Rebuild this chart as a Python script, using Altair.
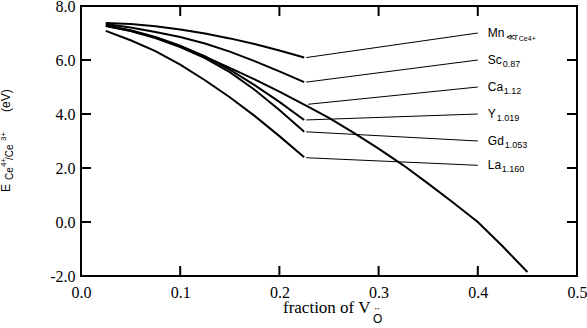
import altair as alt
import pandas as pd

# ---- data ----
x_short = [0.025, 0.05, 0.075, 0.1, 0.125, 0.15, 0.175, 0.2, 0.225]
mn_vals = [7.37, 7.33, 7.25, 7.13, 6.98, 6.80, 6.59, 6.35, 6.09]
sc_vals = [7.33, 7.20, 7.04, 6.85, 6.61, 6.31, 5.96, 5.58, 5.18]
y_vals = [7.29, 7.10, 6.85, 6.53, 6.13, 5.64, 5.07, 4.45, 3.78]
gd_vals = [7.26, 7.07, 6.81, 6.48, 6.07, 5.55, 4.90, 4.15, 3.34]
la_vals = [7.08, 6.73, 6.33, 5.83, 5.25, 4.62, 3.93, 3.18, 2.40]
x_long = [0.025, 0.05, 0.075, 0.1, 0.125, 0.15, 0.175, 0.2, 0.225,
          0.25, 0.275, 0.3, 0.325, 0.35, 0.375, 0.4, 0.425, 0.45]
ca_vals = [7.27, 7.08, 6.83, 6.50, 6.12, 5.71, 5.28, 4.83, 4.35,
           3.86, 3.30, 2.72, 2.10, 1.42, 0.72, 0.00, -0.90, -1.85]

label_main = ["Mn", "Sc", "Ca", "Y", "Gd", "La"]
label_sub = ["\u226ar", "0.87", "1.12", "1.019", "1.053", "1.160"]
leader_x0 = [0.227, 0.227, 0.229, 0.227, 0.227, 0.227]
leader_y0 = [6.09, 5.18, 4.36, 3.78, 3.34, 2.38]
leader_x1 = [0.4, 0.4, 0.4, 0.4, 0.4, 0.4]
leader_y1 = [7.0, 6.0, 5.0, 4.0, 3.0, 2.1]

x_ticks = [0.0, 0.1, 0.2, 0.3, 0.4, 0.5]
y_ticks = [-2.0, 0.0, 2.0, 4.0, 6.0, 8.0]
x_inner = [0.1, 0.2, 0.3, 0.4]
y_inner = [0.0, 2.0, 4.0, 6.0]

# ---- layout / style ----
W, H = 496, 270
SANS = "Liberation Sans"
SERIF = "Liberation Serif"
sub_dx = [28, 25, 26, 19, 27, 24]

rows = []
for name, xs, ys in [("Mn", x_short, mn_vals), ("Sc", x_short, sc_vals),
                     ("Ca", x_long, ca_vals), ("Y", x_short, y_vals),
                     ("Gd", x_short, gd_vals), ("La", x_short, la_vals)]:
    for xv, yv in zip(xs, ys):
        rows.append({"s": name, "x": xv, "y": yv})
curves = pd.DataFrame(rows)

leaders = pd.DataFrame({"s": label_main, "x0": leader_x0, "y0": leader_y0,
                        "x1": leader_x1, "y1": leader_y1, "sub": label_sub})

xs = alt.Scale(domain=[0, 0.5], nice=False, zero=False)
ys = alt.Scale(domain=[-2, 8], nice=False, zero=False)

x_axis = alt.Axis(values=x_ticks, labelExpr="format(datum.value, '.1f')",
                  labelFont=SERIF, labelFontSize=16, labelColor="black",
                  ticks=False, domain=False, grid=False, title=None,
                  labelPadding=8, labelFlush=False, labelOverlap=False)
y_axis = alt.Axis(values=y_ticks,
                  labelExpr="(datum.value < 0 ? '-' : '') + format(abs(datum.value), '.1f')",
                  labelFont=SERIF, labelFontSize=16, labelColor="black",
                  ticks=False, domain=False, grid=False, title=None,
                  labelPadding=6, labelFlush=False, labelOverlap=False)

lines = alt.Chart(curves).mark_line(color="black", strokeWidth=2).encode(
    x=alt.X("x:Q", scale=xs, axis=x_axis),
    y=alt.Y("y:Q", scale=ys, axis=y_axis),
    detail="s:N",
    order="x:Q",
)

lead = alt.Chart(leaders).mark_rule(color="black", strokeWidth=1).encode(
    x=alt.X("x0:Q", scale=xs), y=alt.Y("y0:Q", scale=ys),
    x2="x1:Q", y2="y1:Q",
)

main_txt = alt.Chart(leaders).mark_text(
    align="left", baseline="middle", dx=10, font=SANS, fontSize=12, color="black"
).encode(x=alt.X("x1:Q", scale=xs), y=alt.Y("y1:Q", scale=ys), text="s:N")

layers = [lines, lead, main_txt]
for i in range(len(label_main)):
    d = leaders.iloc[[i]]
    layers.append(
        alt.Chart(d).mark_text(align="left", baseline="middle", dx=sub_dx[i], dy=4,
                               font=SANS, fontSize=9, color="black")
        .encode(x=alt.X("x1:Q", scale=xs), y=alt.Y("y1:Q", scale=ys), text="sub:N")
    )
layers.append(
    alt.Chart(leaders.iloc[[0]]).mark_text(align="left", baseline="middle", dx=41, dy=6,
                                           font=SANS, fontSize=7, color="black")
    .encode(x=alt.X("x1:Q", scale=xs), y=alt.Y("y1:Q", scale=ys), text=alt.value("Ce4+"))
)

# inward ticks on all four sides
xt = pd.DataFrame({"v": x_inner})
yt = pd.DataFrame({"v": y_inner})
layers += [
    alt.Chart(xt).mark_rule(color="black", strokeWidth=2).encode(
        x=alt.X("v:Q", scale=xs), y=alt.value(H), y2=alt.value(H - 10)),
    alt.Chart(xt).mark_rule(color="black", strokeWidth=2).encode(
        x=alt.X("v:Q", scale=xs), y=alt.value(0), y2=alt.value(10)),
    alt.Chart(yt).mark_rule(color="black", strokeWidth=2).encode(
        y=alt.Y("v:Q", scale=ys), x=alt.value(0), x2=alt.value(10)),
    alt.Chart(yt).mark_rule(color="black", strokeWidth=2).encode(
        y=alt.Y("v:Q", scale=ys), x=alt.value(W), x2=alt.value(W - 10)),
]

# axis titles built from pieces (sub/superscripts)
def txt(s, x, y, size, font=SANS, angle=0):
    kw = dict(align="left", baseline="alphabetic", font=font, fontSize=size, color="black")
    if angle:
        kw["angle"] = angle
    return alt.Chart(pd.DataFrame({"t": [s]})).mark_text(**kw).encode(
        x=alt.value(x), y=alt.value(y), text="t:N")

layers += [
    txt("fraction of V", 202, 307, 17, font=SERIF),
    txt("O", 292, 317, 12),
    txt("\u00a8", 294, 311, 13),
    txt("E", -71, 186, 12, angle=270),
    txt("Ce", -68, 174, 10, angle=270),
    txt("4+", -75, 161, 8, angle=270),
    txt("/Ce", -68, 154, 10, angle=270),
    txt("3+", -75, 135, 8, angle=270),
    txt("(eV)", -71, 106, 12, angle=270),
]

chart = alt.layer(*layers).properties(
    width=W, height=H,
    autosize=alt.AutoSizeParams(type="none"),
    padding={"left": 81, "top": 6, "right": 10, "bottom": 52},
    background="white",
).configure_view(stroke="black", strokeWidth=2)

chart.save("out.html", embed_options={"renderer": "svg", "actions": False})
